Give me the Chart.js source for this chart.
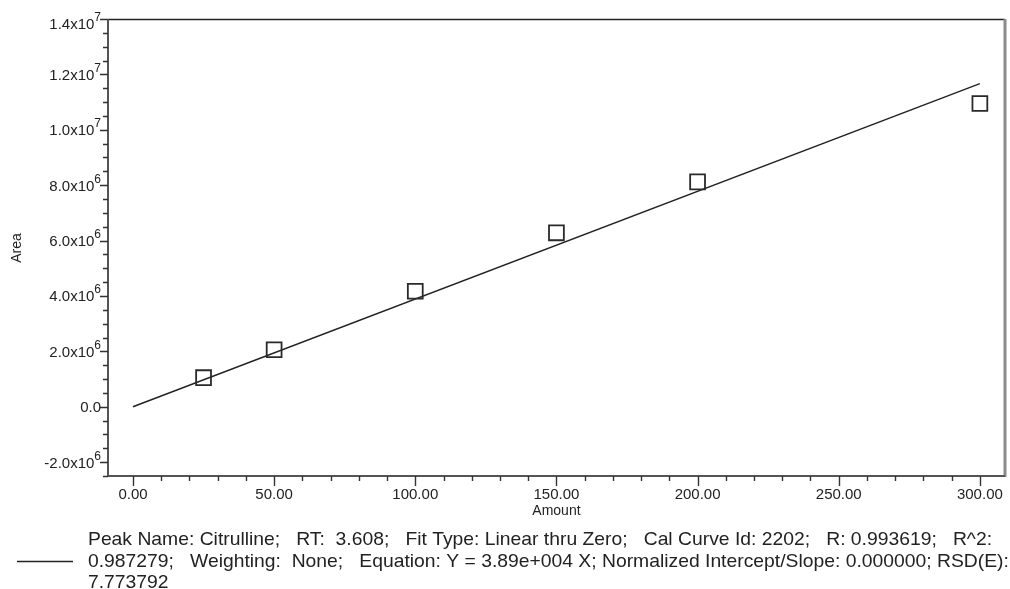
<!DOCTYPE html>
<html>
<head>
<meta charset="utf-8">
<script src="https://cdn.jsdelivr.net/npm/chart.js@4"></script>
<style>
  html, body { margin: 0; padding: 0; background: #fff; overflow: hidden; }
  #wrap { width: 1010px; height: 589px; position: relative; }
  canvas { display: block; }
</style>
</head>
<body>
<div id="wrap"><canvas id="c" width="1010" height="589"></canvas></div>
<script>
// ---- data ----
const amounts = [25, 50, 100, 150, 200, 300];
const areas = [1.05e6, 2.06e6, 4.17e6, 6.28e6, 8.12e6, 1.095e7];
const fitSlope = 3.89e4;
const fitX = [0, 300];
const xMajorTicks = [0, 50, 100, 150, 200, 250, 300];
const xTickLabels = ['0.00', '50.00', '100.00', '150.00', '200.00', '250.00', '300.00'];
const yMajorTicks = [-2e6, 0, 2e6, 4e6, 6e6, 8e6, 1e7, 1.2e7, 1.4e7];
const yTickMantissa = ['-2.0', '0.0', '2.0', '4.0', '6.0', '8.0', '1.0', '1.2', '1.4'];
const yTickExponent = ['6', '', '6', '6', '6', '6', '7', '7', '7'];
const legendLines = [
  'Peak Name: Citrulline;   RT:  3.608;   Fit Type: Linear thru Zero;   Cal Curve Id: 2202;   R: 0.993619;   R^2:',
  '0.987279;   Weighting:  None;   Equation: Y = 3.89e+004 X; Normalized Intercept/Slope: 0.000000; RSD(E):',
  '7.773792'
];
const xMinorStep = 10;
const yMinorStep = 5e5;

const FONT = '"Liberation Sans", Arial, sans-serif';

const framePlugin = {
  id: 'frame',
  afterDraw(chart) {
    const ctx = chart.ctx;
    const a = chart.chartArea;
    const xs = chart.scales.x, ys = chart.scales.y;
    ctx.save();
    // top & right border
    ctx.strokeStyle = '#222';
    ctx.lineWidth = 1.5;
    ctx.beginPath();
    ctx.moveTo(a.left, a.top + 0.5); ctx.lineTo(a.right, a.top + 0.5);
    ctx.stroke();
    ctx.strokeStyle = '#8a8a8a';
    ctx.lineWidth = 3;
    ctx.beginPath();
    ctx.moveTo(a.right, a.top); ctx.lineTo(a.right, a.bottom + 1);
    ctx.stroke();
    // left & bottom axes
    ctx.strokeStyle = '#555';
    ctx.lineWidth = 2;
    ctx.beginPath();
    ctx.moveTo(a.left, a.top); ctx.lineTo(a.left, a.bottom);
    ctx.lineTo(a.right, a.bottom);
    ctx.stroke();

    // ticks
    ctx.strokeStyle = '#333';
    ctx.lineWidth = 1.4;
    ctx.beginPath();
    for (let v = Math.ceil(xs.min / xMinorStep) * xMinorStep; v <= xs.max; v += xMinorStep) {
      const px = Math.round(xs.getPixelForValue(v)) + 0.5;
      const major = xMajorTicks.includes(v);
      ctx.moveTo(px, a.bottom);
      ctx.lineTo(px, a.bottom + (major ? 10 : 5));
    }
    for (let v = Math.ceil(ys.min / yMinorStep) * yMinorStep; v <= ys.max + 1; v += yMinorStep) {
      const py = Math.round(ys.getPixelForValue(v)) + 0.5;
      const major = yMajorTicks.includes(v);
      ctx.moveTo(a.left, py);
      ctx.lineTo(a.left - (major ? 8 : 5), py);
    }
    ctx.stroke();

    // x tick labels
    ctx.fillStyle = '#222';
    ctx.font = '15px ' + FONT;
    ctx.textAlign = 'center';
    ctx.textBaseline = 'middle';
    xMajorTicks.forEach((v, i) => {
      ctx.fillText(xTickLabels[i], xs.getPixelForValue(v), a.bottom + 19);
    });
    // y tick labels with superscripts
    ctx.textBaseline = 'alphabetic';
    ctx.textAlign = 'left';
    yMajorTicks.forEach((v, i) => {
      let py = ys.getPixelForValue(v);
      if (v === ys.max) py += 4;
      const base = yTickMantissa[i] + (yTickExponent[i] ? 'x10' : '');
      ctx.font = '15px ' + FONT;
      const w1 = ctx.measureText(base).width;
      ctx.font = '12px ' + FONT;
      const w2 = yTickExponent[i] ? ctx.measureText(yTickExponent[i]).width : 0;
      const right = a.left - 7;
      const x0 = right - w1 - w2;
      ctx.font = '15px ' + FONT;
      ctx.fillText(base, x0, py + 5.5);
      if (yTickExponent[i]) {
        ctx.font = '12px ' + FONT;
        ctx.fillText(yTickExponent[i], x0 + w1, py - 2.5);
      }
    });

    // axis titles
    ctx.font = '14px ' + FONT;
    ctx.textAlign = 'center';
    ctx.textBaseline = 'middle';
    ctx.fillText('Amount', xs.getPixelForValue(150), 511);
    ctx.save();
    ctx.translate(17, 248);
    ctx.rotate(-Math.PI / 2);
    ctx.fillText('Area', 0, 0);
    ctx.restore();

    // legend
    ctx.strokeStyle = '#222';
    ctx.lineWidth = 1.4;
    ctx.beginPath();
    ctx.moveTo(17, 561.5); ctx.lineTo(73, 561.5);
    ctx.stroke();
    ctx.font = '19px ' + FONT;
    ctx.textAlign = 'left';
    ctx.textBaseline = 'middle';
    ctx.fillStyle = '#222';
    const sx = 904 / ctx.measureText(legendLines[0]).width;
    ctx.save();
    ctx.scale(sx, 1);
    legendLines.forEach((t, i) => {
      ctx.fillText(t, 88 / sx, 540 + i * 21.5);
    });
    ctx.restore();
    ctx.restore();
  }
};

new Chart(document.getElementById('c'), {
  type: 'scatter',
  data: {
    datasets: [
      {
        label: 'Fit',
        type: 'line',
        data: fitX.map(x => ({ x: x, y: fitSlope * x })),
        borderColor: '#222',
        borderWidth: 1.4,
        pointRadius: 0,
        fill: false,
        order: 2
      },
      {
        label: 'Standards',
        data: amounts.map((x, i) => ({ x: x, y: areas[i] })),
        pointStyle: 'rect',
        pointRadius: 10.5,
        pointBorderWidth: 1.8,
        pointBorderColor: '#2a2a2a',
        pointBackgroundColor: 'rgba(0,0,0,0)',
        order: 1
      }
    ]
  },
  options: {
    responsive: false,
    animation: false,
    events: [],
    layout: { autoPadding: false, padding: { left: 0, top: 19, right: 5, bottom: 0 } },
    plugins: { legend: { display: false }, tooltip: { enabled: false } },
    scales: {
      x: {
        type: 'linear',
        min: -8.85,
        max: 308.9,
        grid: { display: false },
        border: { display: false },
        ticks: { display: false },
        afterFit(s) { s.height = 113; }
      },
      y: {
        type: 'linear',
        min: -2.5e6,
        max: 1.4e7,
        grid: { display: false },
        border: { display: false },
        ticks: { display: false },
        afterFit(s) { s.width = 108; }
      }
    }
  },
  plugins: [framePlugin]
});
</script>
</body>
</html>
